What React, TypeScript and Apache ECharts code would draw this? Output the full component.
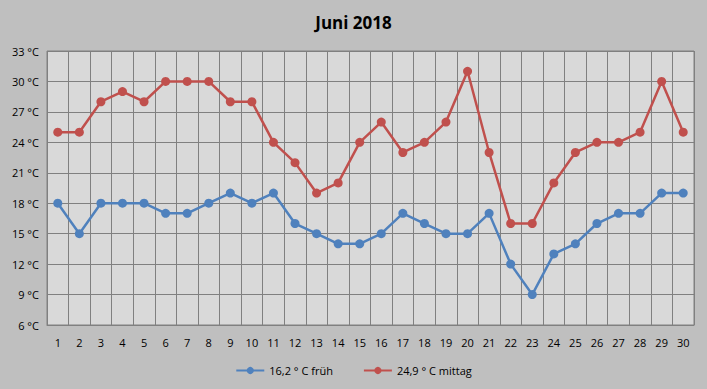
import React, { useEffect, useRef } from "react";
import * as echarts from "echarts";

const days = Array.from({ length: 30 }, (_, i) => String(i + 1));
const frueh = [18, 15, 18, 18, 18, 17, 17, 18, 19, 18, 19, 16, 15, 14, 14, 15, 17, 16, 15, 15, 17, 12, 9, 13, 14, 16, 17, 17, 19, 19];
const mittag = [25, 25, 28, 29, 28, 30, 30, 30, 28, 28, 24, 22, 19, 20, 24, 26, 23, 24, 26, 31, 23, 16, 16, 20, 23, 24, 24, 25, 30, 25];
const seriesNames = ["16,2 ° C früh", "24,9 ° C mittag"];

export default function App() {
  const ref = useRef<HTMLDivElement>(null);
  useEffect(() => {
    const chart = echarts.init(ref.current!, null, { renderer: "svg" });
    const font = "'Open Sans', 'Noto Sans', sans-serif";
    chart.setOption({
      animation: false,
      backgroundColor: "#bfbfbf",
      title: {
        text: "Juni 2018",
        left: "center",
        top: 9,
        textStyle: { fontSize: 17, fontWeight: "bold", color: "#000", fontFamily: font },
      },
      legend: {
        bottom: 8,
        left: "center",
        itemWidth: 28,
        itemHeight: 9,
        itemGap: 30,
        textStyle: { fontSize: 11, color: "#000", fontFamily: font },
        data: seriesNames,
      },
      grid: { left: 47, right: 13, top: 51, bottom: 64, show: true, backgroundColor: "#d9d9d9", borderColor: "#808080", borderWidth: 1 },
      xAxis: {
        type: "category",
        data: days,
        boundaryGap: true,
        axisLine: { show: true, lineStyle: { color: "#808080" } },
        axisTick: { show: false },
        axisLabel: { color: "#000", fontSize: 11, margin: 12, fontFamily: font },
        splitLine: { show: true, lineStyle: { color: "#808080", width: 1 } },
      },
      yAxis: {
        type: "value",
        min: 6,
        max: 33,
        interval: 3,
        axisLine: { show: false },
        axisTick: { show: false },
        axisLabel: { color: "#000", fontSize: 11, margin: 8, formatter: "{value} °C", fontFamily: font },
        splitLine: { show: true, lineStyle: { color: "#808080", width: 1 } },
      },
      series: [
        {
          name: seriesNames[0],
          type: "line",
          data: frueh,
          symbol: "circle",
          symbolSize: 9,
          color: "#4f81bd",
          lineStyle: { width: 2.5, color: "#4f81bd" },
          itemStyle: { color: "#4f81bd" },
        },
        {
          name: seriesNames[1],
          type: "line",
          data: mittag,
          symbol: "circle",
          symbolSize: 9,
          color: "#c0504d",
          lineStyle: { width: 2.5, color: "#c0504d" },
          itemStyle: { color: "#c0504d" },
        },
      ],
    });
    return () => chart.dispose();
  }, []);
  return <div ref={ref} style={{ width: 707, height: 389, position: "absolute", left: 0, top: 0 }} />;
}
